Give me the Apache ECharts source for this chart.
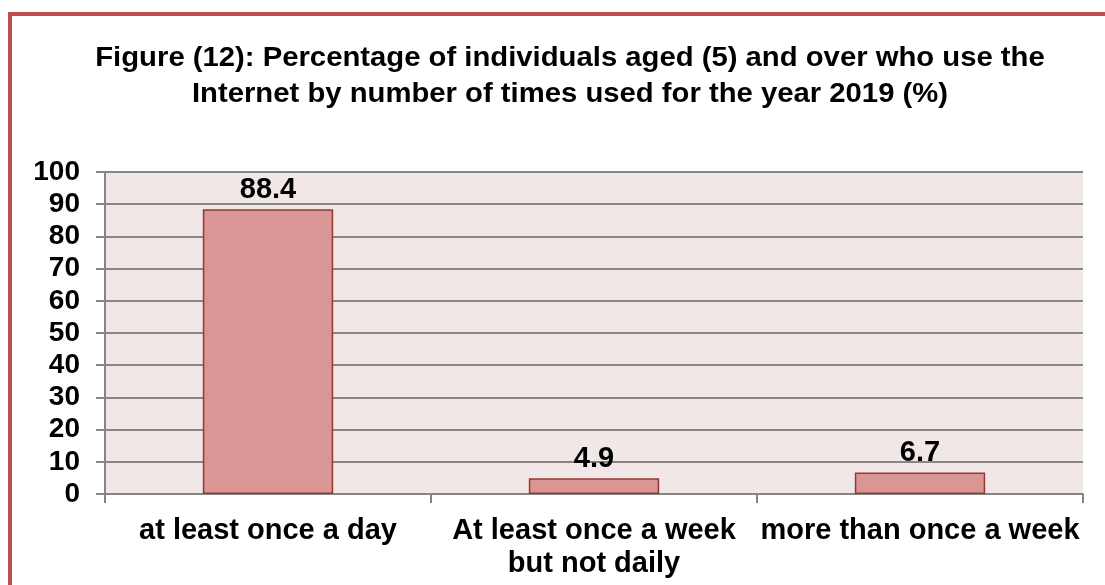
<!DOCTYPE html>
<html>
<head>
<meta charset="utf-8">
<script src="https://cdn.jsdelivr.net/npm/echarts@6/dist/echarts.min.js"></script>
<style>
html,body{margin:0;padding:0;background:#fff;}
#c{width:1105px;height:585px;}
</style>
</head>
<body>
<div id="c"></div>
<script>
const titleLines = ['Figure (12): Percentage of individuals aged (5) and over who use the', 'Internet by number of times used for the year 2019 (%)'];
const categories = ['at least once a day', 'At least once a week\nbut not daily', 'more than once a week'];
const values = [88.4, 4.9, 6.7];
const yTicks = [0, 10, 20, 30, 40, 50, 60, 70, 80, 90, 100];

const FONT = '"Liberation Sans", Arial, sans-serif';
const chart = echarts.init(document.getElementById('c'), null, {renderer: 'canvas'});
chart.setOption({
  animation: false,
  backgroundColor: '#ffffff',
  graphic: [
    {type: 'rect', shape: {x: 8, y: 12, width: 4, height: 600}, style: {fill: '#c0504d'}, silent: true},
    {type: 'rect', shape: {x: 8, y: 12, width: 1110, height: 4}, style: {fill: '#c0504d'}, silent: true},
    {type: 'text', x: 570, y: 40, scaleX: 1.045, style: {text: titleLines.join('\n'), font: 'bold 28px ' + FONT, fill: '#000', align: 'center', verticalAlign: 'top', lineHeight: 36}, silent: true}
  ],
  grid: {left: 105, right: 22, top: 172, bottom: 91, show: true, backgroundColor: '#f2e7e7', borderWidth: 0, containLabel: false},
  xAxis: {
    type: 'category',
    data: categories,
    axisLine: {show: true, lineStyle: {color: '#868686', width: 2}},
    axisTick: {show: true, length: 9, alignWithLabel: false, lineStyle: {color: '#868686', width: 2}},
    axisLabel: {interval: 0, margin: 20, fontSize: 29, fontWeight: 'bold', fontFamily: FONT, color: '#000', lineHeight: 33}
  },
  yAxis: {
    type: 'value',
    min: yTicks[0],
    max: yTicks[yTicks.length - 1],
    interval: 10,
    axisLine: {show: true, lineStyle: {color: '#868686', width: 2}},
    axisTick: {show: true, length: 9, lineStyle: {color: '#868686', width: 2}},
    axisLabel: {margin: 25, fontSize: 28, fontWeight: 'bold', fontFamily: FONT, color: '#000'},
    splitLine: {show: true, lineStyle: {color: '#868686', width: 2}}
  },
  series: [{
    type: 'bar',
    data: values,
    barWidth: '40%',
    itemStyle: {color: '#d99694', borderColor: '#953735', borderWidth: 1.5},
    label: {show: true, position: 'top', distance: 5, fontSize: 29, fontWeight: 'bold', fontFamily: FONT, color: '#000', formatter: p => p.value.toFixed(1)}
  }]
});
</script>
</body>
</html>
